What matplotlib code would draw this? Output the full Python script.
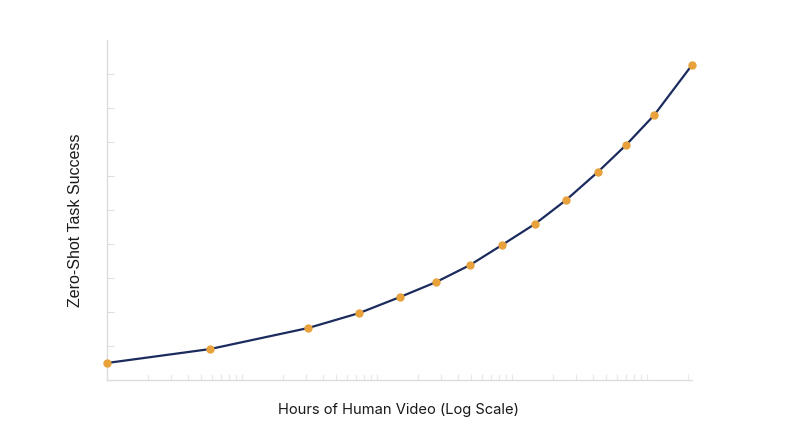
import matplotlib
matplotlib.use("Agg")
import matplotlib.pyplot as plt
from matplotlib.ticker import LogLocator, NullFormatter, FixedLocator

# hours of human video (log scale) and zero-shot success (arbitrary units)
hours = [1, 5.8, 31, 74, 148, 274, 488, 843, 1480, 2510, 4330, 6990, 11300, 21500]
success = [0.50, 0.91, 1.53, 1.97, 2.44, 2.88, 3.38, 3.97, 4.59, 5.29, 6.12, 6.91, 7.79, 9.26]
y_ticks = [1, 2, 3, 4, 5, 6, 7, 8, 9]

plt.rcParams['font.family'] = ['Inter', 'DejaVu Sans']

fig = plt.figure(figsize=(8, 4.47), dpi=100)
ax = fig.add_axes([0.13375, 0.1499, 0.73125, 0.7606])

ax.plot(hours, success, color='#1b2b5e', linewidth=1.6, zorder=2, clip_on=False)
ax.plot(hours, success, 'o', color='#e9a23b', markersize=5, zorder=3, clip_on=False)

ax.set_xscale('log')
ax.set_xlim(1, 21544)
ax.set_ylim(0, 10)

ax.xaxis.set_major_locator(LogLocator(base=10))
ax.xaxis.set_minor_locator(LogLocator(base=10, subs=range(2, 10)))
ax.xaxis.set_major_formatter(NullFormatter())
ax.xaxis.set_minor_formatter(NullFormatter())
ax.yaxis.set_major_locator(FixedLocator(y_ticks))
ax.yaxis.set_major_formatter(NullFormatter())

ax.tick_params(axis='x', which='both', direction='in', length=4, width=0.8, color='#e8e8e8')
ax.tick_params(axis='y', which='major', direction='in', length=5, width=0.8, color='#dedede')

for side in ['top', 'right']:
    ax.spines[side].set_visible(False)
for side in ['left', 'bottom']:
    ax.spines[side].set_color('#dcdcdc')
    ax.spines[side].set_linewidth(1.0)

# axis titles placed to match the reference layout
fig.text(399 / 800, 1 - 410 / 447, 'Hours of Human Video (Log Scale)', fontsize=10.6,
         color='#1a1a1a', ha='center', va='center')
fig.text(76 / 800, 1 - 220 / 447, 'Zero-Shot Task Success', fontsize=11.5,
         family=['Liberation Sans', 'DejaVu Sans'], color='#1a1a1a',
         rotation=90, ha='center', va='center')

fig.savefig('out.png', dpi=100)
